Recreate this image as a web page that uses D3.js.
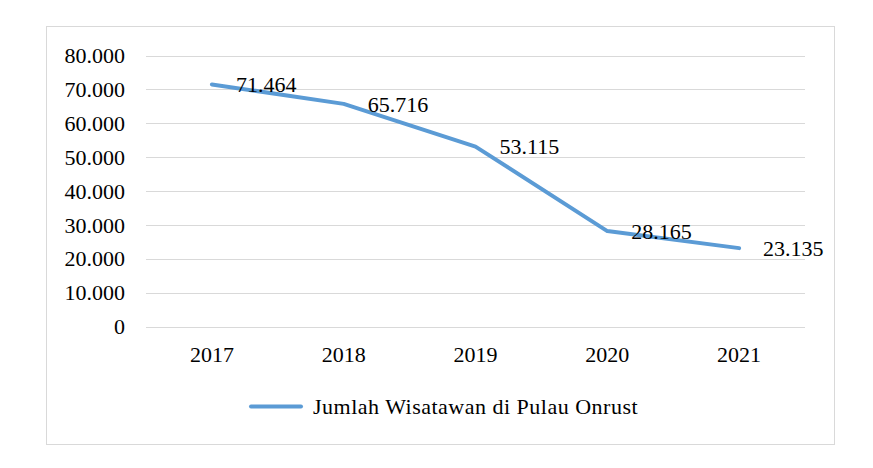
<!DOCTYPE html>
<html>
<head>
<meta charset="utf-8">
<script src="https://cdn.jsdelivr.net/npm/d3@7"></script>
<style>
  body { margin: 0; background: #fff; }
  text { font-family: "Liberation Serif", "Times New Roman", serif; fill: #000; }
</style>
</head>
<body>
<div id="chart"></div>
<script>
// data
const years = ["2017", "2018", "2019", "2020", "2021"];
const visitors = [71464, 65716, 53115, 28165, 23135];
const yTicks = [0, 10000, 20000, 30000, 40000, 50000, 60000, 70000, 80000];
const seriesName = "Jumlah Wisatawan di Pulau Onrust";

const width = 873;
const height = 468;
const plotLeft = 146, plotRight = 805, plotTop = 55.5, plotBottom = 326.5;
const fontSize = 22;
const lineColor = "#5b9bd5";

// Indonesian style thousands separator
const fmt = v => d3.format(",")(v).replace(/,/g, ".");

const svg = d3.select("#chart").append("svg")
  .attr("width", width)
  .attr("height", height);

// chart frame
svg.append("rect")
  .attr("x", 46.5).attr("y", 26.5)
  .attr("width", 788).attr("height", 418)
  .attr("fill", "#fff")
  .attr("stroke", "#d9d9d9");

const x = d3.scalePoint()
  .domain(years)
  .range([plotLeft, plotRight])
  .padding(0.5);

const y = d3.scaleLinear()
  .domain([0, 80000])
  .range([plotBottom, plotTop]);

// gridlines
svg.append("g")
  .selectAll("line")
  .data(yTicks)
  .enter().append("line")
  .attr("x1", plotLeft).attr("x2", plotRight)
  .attr("y1", d => Math.round(y(d)) + 0.5)
  .attr("y2", d => Math.round(y(d)) + 0.5)
  .attr("stroke", "#d9d9d9")
  .attr("stroke-width", 1);

// y labels
svg.append("g")
  .selectAll("text")
  .data(yTicks)
  .enter().append("text")
  .attr("x", 125)
  .attr("y", d => y(d))
  .attr("dy", "0.35em")
  .style("font-size", fontSize + "px")
  .style("text-anchor", "end")
  .text(d => fmt(d));

// x labels
svg.append("g")
  .selectAll("text")
  .data(years)
  .enter().append("text")
  .attr("x", d => x(d))
  .attr("y", 362)
  .style("font-size", fontSize + "px")
  .style("text-anchor", "middle")
  .text(d => d);

// line
const line = d3.line()
  .x((d, i) => x(years[i]))
  .y(d => y(d));

svg.append("path")
  .datum(visitors)
  .attr("d", line)
  .attr("fill", "none")
  .attr("stroke", lineColor)
  .attr("stroke-width", 4)
  .attr("stroke-linejoin", "round")
  .attr("stroke-linecap", "round");

// data labels
svg.append("g")
  .selectAll("text")
  .data(visitors)
  .enter().append("text")
  .attr("x", (d, i) => x(years[i]) + 24)
  .attr("y", d => y(d))
  .attr("dy", "0.35em")
  .style("font-size", fontSize + "px")
  .text(d => fmt(d));

// legend
svg.append("line")
  .attr("x1", 251).attr("x2", 301)
  .attr("y1", 406.5).attr("y2", 406.5)
  .attr("stroke", lineColor)
  .attr("stroke-width", 4)
  .attr("stroke-linecap", "round");

svg.append("text")
  .attr("x", 313)
  .attr("y", 406.5)
  .attr("dy", "0.35em")
  .style("font-size", fontSize + "px")
  .style("letter-spacing", "0.5px")
  .text(seriesName);
</script>
</body>
</html>
